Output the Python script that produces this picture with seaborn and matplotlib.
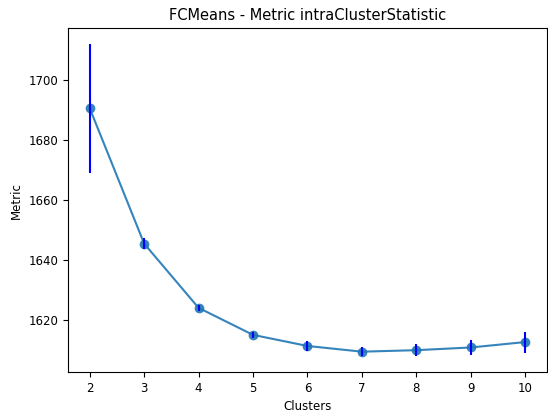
import matplotlib
matplotlib.use("Agg")
import matplotlib.pyplot as plt
import seaborn as sns
import pandas as pd

clusters = [2, 3, 4, 5, 6, 7, 8, 9, 10]
metric_mean = [1690.6, 1645.5, 1624.1, 1615.1, 1611.4, 1609.5, 1610.0, 1610.9, 1612.7]
metric_std = [21.5, 1.8, 1.0, 1.0, 1.7, 1.6, 2.1, 2.4, 3.5]

df = pd.DataFrame({"Clusters": clusters, "Metric": metric_mean, "Std": metric_std})

fig, ax = plt.subplots(figsize=(5.48, 4.13), dpi=100)
fig.subplots_adjust(left=0.124, right=0.998, top=0.932, bottom=0.099)

# mean curve with point markers
sns.lineplot(data=df, x="Clusters", y="Metric", ax=ax, color="tab:blue",
             linewidth=1.5, alpha=0.9, marker="o", markersize=7,
             markeredgewidth=0)
# standard deviation bars drawn over the markers
ax.errorbar(df["Clusters"], df["Metric"], yerr=df["Std"], fmt="none",
            ecolor="blue", elinewidth=1.5, zorder=3)

ax.set_xticks(clusters)
ax.tick_params(labelsize=8.5)
ax.set_xlabel("Clusters", fontsize=8.5)
ax.set_ylabel("Metric", fontsize=8.5)
ax.set_title("FCMeans - Metric intraClusterStatistic", fontsize=10.5)

fig.savefig("out.png", dpi=100)
